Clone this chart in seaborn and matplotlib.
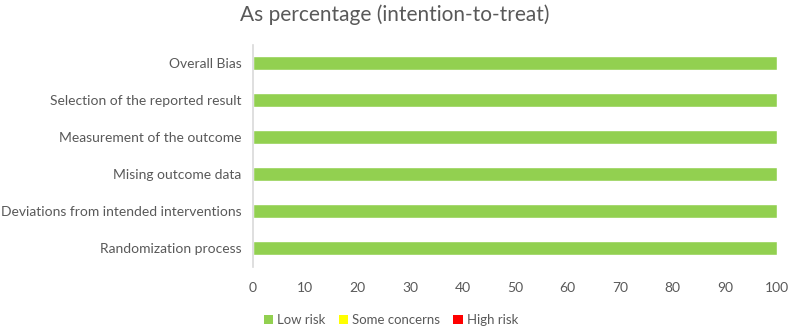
import numpy as np
import pandas as pd
import seaborn as sns
import matplotlib.pyplot as plt
from matplotlib.patches import Patch

# 数据：各偏倚领域的风险百分比
domains = ['Overall Bias', 'Selection of the reported result', 'Measurement of the outcome',
           'Mising outcome data', 'Deviations from intended interventions', 'Randomization process']
low_risk = [100, 100, 100, 100, 100, 100]
some_concerns = [0, 0, 0, 0, 0, 0]
high_risk = [0, 0, 0, 0, 0, 0]

colors = {'Low risk': '#92D050', 'Some concerns': '#FFFF00', 'High risk': '#FF0000'}
text_color = '#595959'

sns.set_theme(style='white')
plt.rcParams['font.family'] = ['Lato', 'DejaVu Sans']

df = pd.DataFrame({'domain': domains, 'low': low_risk, 'some': some_concerns, 'high': high_risk})
df['low_some'] = df['low'] + df['some']
df['total'] = df['low_some'] + df['high']

fig = plt.figure(figsize=(7.9, 3.28), dpi=100)
ax = fig.add_axes([0.320, 0.1875, 0.664, 0.6765])

# 堆叠条形图：从后往前画累计值
sns.barplot(data=df, x='total', y='domain', color=colors['High risk'], width=0.38,
            saturation=1, ax=ax, order=domains)
sns.barplot(data=df, x='low_some', y='domain', color=colors['Some concerns'], width=0.38,
            saturation=1, ax=ax, order=domains)
sns.barplot(data=df, x='low', y='domain', color=colors['Low risk'], width=0.38,
            saturation=1, ax=ax, order=domains)

ax.set_xlim(0, 100)
ax.set_xticks(np.arange(0, 101, 10))
ax.set_xlabel('')
ax.set_ylabel('')
for s in ['top', 'right', 'bottom']:
    ax.spines[s].set_visible(False)
ax.spines['left'].set_color('#d9d9d9')
ax.spines['left'].set_linewidth(1.2)
ax.tick_params(axis='both', length=0, labelsize=10, colors=text_color, pad=8)
ax.tick_params(axis='x', pad=11)

fig.suptitle('As percentage (intention-to-treat)', x=0.5, y=1 - 15 / 328, va='center',
             fontsize=15, color=text_color)

handles = [Patch(facecolor=c, edgecolor='none', label=k) for k, c in colors.items()]
fig.legend(handles=handles, loc='center', bbox_to_anchor=(0.495, 1 - 320 / 328), ncol=3,
           frameon=False, fontsize=9.5, labelcolor=text_color, handlelength=0.7,
           handleheight=0.7, handletextpad=0.3, columnspacing=1.0)

plt.savefig('out.png', dpi=100)
